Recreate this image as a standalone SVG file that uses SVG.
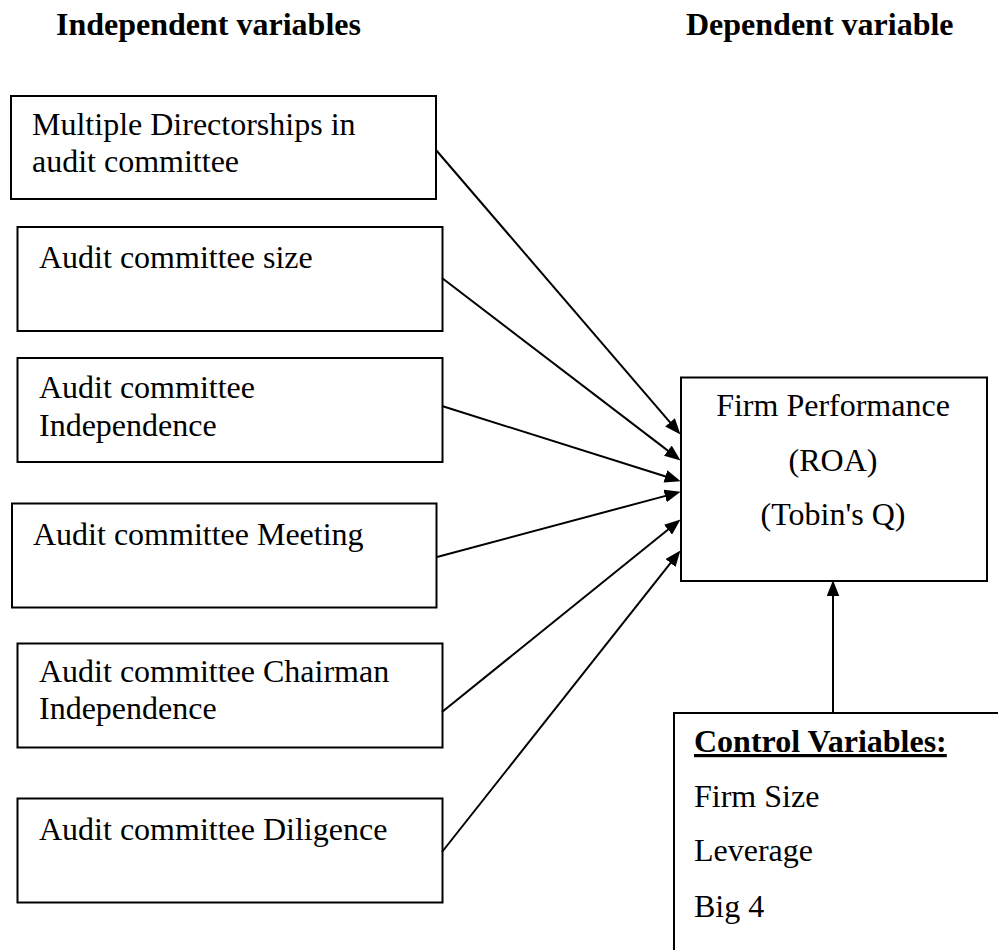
<svg xmlns="http://www.w3.org/2000/svg" width="998" height="950" viewBox="0 0 998 950">
<style>
  .box { fill: #ffffff; stroke: #000000; stroke-width: 2; }
  .t { font-family: "Liberation Serif", "Times New Roman", serif; font-size: 32px; fill: #000000; }
  .b { font-weight: bold; }
  .conn line { stroke: #000000; stroke-width: 2; marker-end: url(#ah); }
</style>
<defs>
  <marker id="ah" markerUnits="userSpaceOnUse" markerWidth="16" markerHeight="13" viewBox="0 0 15 12" refX="5" refY="6" orient="auto">
    <path d="M0,0 L15,6 L0,12 z" fill="#000000"/>
  </marker>
</defs>
<rect width="998" height="950" fill="#ffffff"/>
<g id="headers">
  <text class="t b" x="56" y="35">Independent variables</text>
  <text class="t b" x="686" y="35">Dependent variable</text>
</g>
<g id="n-multiple">
  <rect class="box" x="11" y="96" width="425" height="103"/>
  <text class="t" x="32" y="135">Multiple Directorships in</text>
  <text class="t" x="32" y="172">audit committee</text>
</g>
<g id="n-size">
  <rect class="box" x="17.5" y="227" width="425" height="104"/>
  <text class="t" x="39" y="268">Audit committee size</text>
</g>
<g id="n-independence">
  <rect class="box" x="17.5" y="358" width="425" height="104"/>
  <text class="t" x="39" y="398">Audit committee</text>
  <text class="t" x="39" y="436">Independence</text>
</g>
<g id="n-meeting">
  <rect class="box" x="12" y="503.5" width="424.5" height="104"/>
  <text class="t" x="33" y="545">Audit committee Meeting</text>
</g>
<g id="n-chairman">
  <rect class="box" x="17.5" y="643.5" width="425" height="104"/>
  <text class="t" x="39" y="682">Audit committee Chairman</text>
  <text class="t" x="39" y="719">Independence</text>
</g>
<g id="n-diligence">
  <rect class="box" x="17.5" y="798.5" width="425" height="104"/>
  <text class="t" x="39" y="840">Audit committee Diligence</text>
</g>
<g id="n-firm">
  <rect class="box" x="681" y="377.5" width="306" height="203.5"/>
  <text class="t" x="833" y="416" text-anchor="middle">Firm Performance</text>
  <text class="t" x="833" y="471" text-anchor="middle">(ROA)</text>
  <text class="t" x="833" y="525" text-anchor="middle">(Tobin's Q)</text>
</g>
<g id="n-control">
  <rect class="box" x="674" y="713" width="340" height="260"/>
  <text class="t b" x="694" y="752" text-decoration="underline">Control Variables:</text>
  <text class="t" x="694" y="807">Firm Size</text>
  <text class="t" x="694" y="861">Leverage</text>
  <text class="t" x="694" y="917">Big 4</text>
</g>
<g id="connectors" class="conn">
  <line x1="436" y1="150" x2="673.5" y2="426.4"/>
  <line x1="442" y1="278" x2="672.1" y2="453.9"/>
  <line x1="442" y1="406" x2="670.5" y2="478"/>
  <line x1="437" y1="557" x2="670.3" y2="494.6"/>
  <line x1="442" y1="712" x2="672.2" y2="526.3"/>
  <line x1="442" y1="852" x2="673.8" y2="558.8"/>
  <line x1="833" y1="713" x2="833" y2="591"/>
</g>
</svg>
